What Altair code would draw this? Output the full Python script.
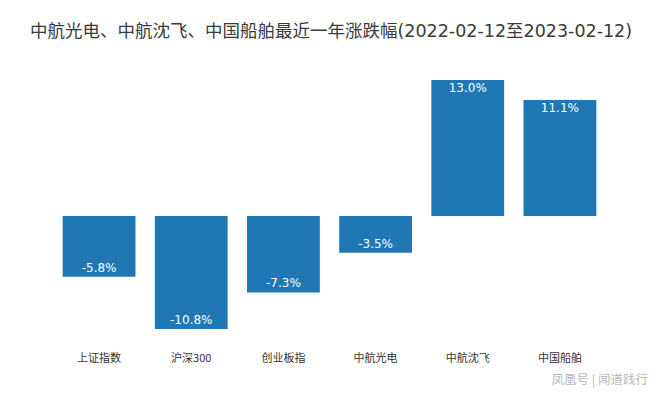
import altair as alt
import pandas as pd

names = ["上证指数", "沪深300", "创业板指", "中航光电", "中航沈飞", "中国船舶"]
changes = [-5.8, -10.8, -7.3, -3.5, 13.0, 11.1]
labels = ["-5.8%", "-10.8%", "-7.3%", "-3.5%", "13.0%", "11.1%"]

df = pd.DataFrame({"name": names, "change": changes, "label": labels})

FONT = "Noto Sans CJK SC"
MIXED = "DejaVu Sans, Noto Sans CJK SC"

x = alt.X("name:N", sort=names, title=None,
          scale=alt.Scale(paddingInner=0.21, paddingOuter=0.105),
          axis=alt.Axis(labelAngle=0, domain=False, ticks=False, labelPadding=23,
                        labelFontSize=11, labelColor="#333333", labelFont=FONT))
y = alt.Y("change:Q", title=None,
          scale=alt.Scale(domain=[-10.8, 13.0], nice=False, zero=True),
          axis=None)

base = alt.Chart(df)

bars = base.mark_bar(color="#1f77b4").encode(x=x, y=y, y2=alt.datum(0))

pos_text = base.transform_filter("datum.change >= 0").mark_text(
    color="white", fontSize=12, font="DejaVu Sans", baseline="top", dy=3
).encode(x=x, y=y, text="label:N")

neg_text = base.transform_filter("datum.change < 0").mark_text(
    color="white", fontSize=12, font="DejaVu Sans", baseline="bottom", dy=-2
).encode(x=x, y=y, text="label:N")

watermark = alt.Chart(pd.DataFrame({"t": ["凤凰号 | 闻道践行"]})).mark_text(
    align="right", baseline="middle", fontSize=12.5, font=FONT, color="#b8b8b8"
).encode(x=alt.value(595), y=alt.value(300), text="t:N")

chart = alt.layer(bars, pos_text, neg_text, watermark).properties(
    width=553,
    height=249,
    autosize=alt.AutoSizeParams(type="none"),
    padding={"left": 45, "top": 72, "right": 46, "bottom": 59},
    title=alt.TitleParams(
        "中航光电、中航沈飞、中国船舶最近一年涨跌幅(2022-02-12至2023-02-12)",
        anchor="start", fontSize=17.5, font=MIXED, fontWeight="normal",
        color="#3a3a3a", dx=-23, offset=40
    ),
).configure_view(stroke=None)

chart.save("out.html", embed_options={"renderer": "svg", "actions": False})
